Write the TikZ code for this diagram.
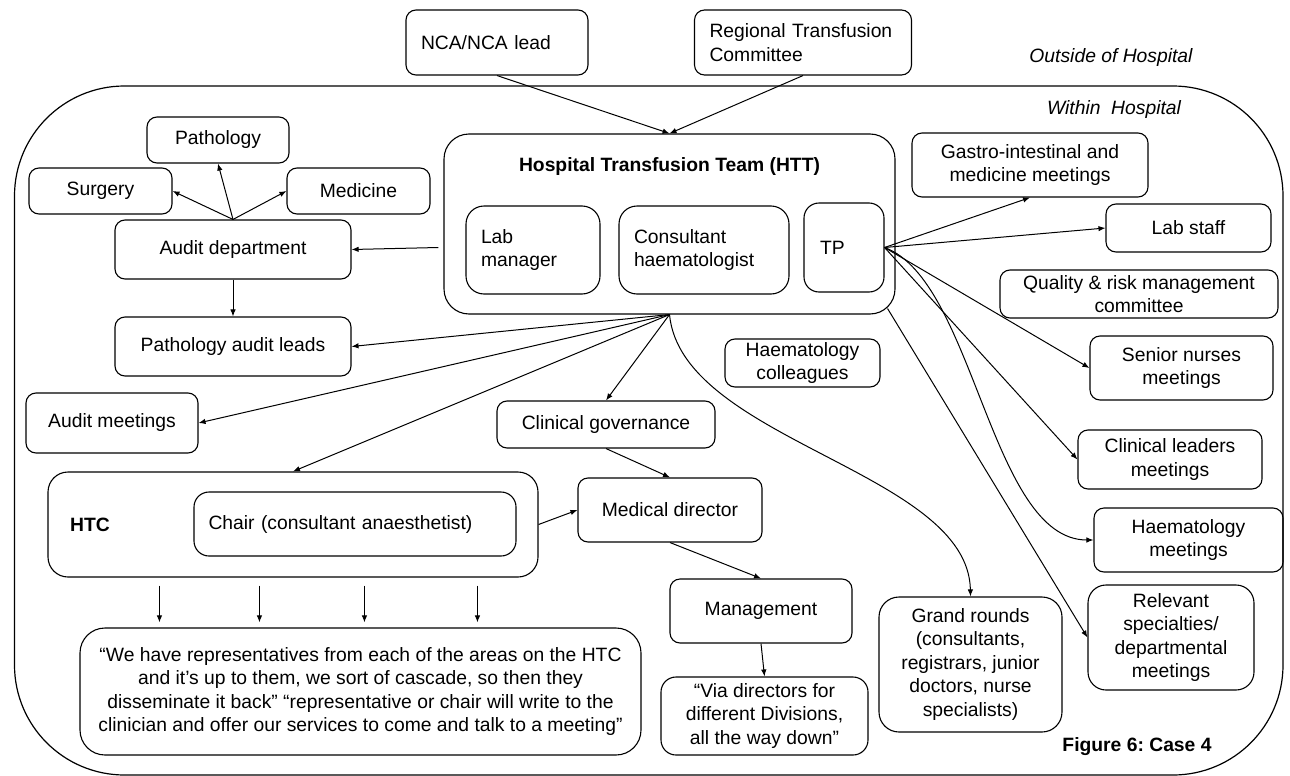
\documentclass[tikz,border=0pt]{standalone}
\usepackage{fontspec}
\setmainfont{Liberation Sans}
\usetikzlibrary{arrows.meta,calc}
\frenchspacing

\begin{document}
\begin{tikzpicture}[
    x=1pt, y=-1pt,
    every node/.style={align=center, font=\fontsize{19.3}{23.5}\selectfont},
    % Stile per i riquadri con testo centrato
    box/.style={draw, line width=1.1pt, rounded corners=10pt, inner sep=2pt},
    % Stile per i riquadri con testo a sinistra
    lbox/.style={box, align=left, inner xsep=15pt},
    % Stile per le frecce
    arr/.style={-{Latex[length=7pt,width=5.5pt]}, line width=1pt},
    % Stile per le etichette libere
    lbl/.style={font=\fontsize{19.3}{23.5}\selectfont\itshape},
    head/.style={font=\fontsize{19.3}{23.5}\selectfont\bfseries}
]
\useasboundingbox (0,0) rectangle (1290,776);

% --- ESTERNO (Outside of Hospital) ---
\node[lbox, text width=152pt, minimum height=65pt] (nca) at (497,42.5) {NCA/NCA lead};
\node[lbox, text width=187pt, minimum height=65pt] (rtc) at (803,42.5) {Regional Transfusion\\Committee};
\node[lbl] (outside) at (1111,58) {Outside of Hospital};

% --- OSPEDALE (Within Hospital) ---
\draw[line width=1.2pt, rounded corners=110pt] (14.5,86) rectangle (1283,775);
\node[lbl] (within) at (1114,110) {Within\ \ Hospital};

% --- HTT ---
\node[box, rounded corners=25pt, minimum width=451pt, minimum height=180pt] (htt) at (669.5,224) {};
\node[head] (htttitle) at (669.5,167) {Hospital Transfusion Team (HTT)};
\node[lbox, rounded corners=18pt, text width=104pt, minimum height=88pt] (labman) at (533,250) {Lab\\manager};
\node[lbox, rounded corners=18pt, text width=140pt, minimum height=88pt] (consult) at (704,250) {Consultant\\haematologist};
\node[lbox, rounded corners=15pt, inner xsep=16pt, text width=48pt, minimum height=89pt] (tp) at (844,247.5) {TP};

% --- AUDIT (sinistra) ---
\node[box, minimum width=142pt, minimum height=46pt] (path) at (218,140) {Pathology};
\node[box, minimum width=143pt, minimum height=46pt] (surg) at (100.5,191) {Surgery};
\node[box, minimum width=143pt, minimum height=46pt] (med) at (358.5,191) {Medicine};
\node[box, minimum width=236pt, minimum height=59pt] (audit) at (233,249.5) {Audit department};
\node[box, minimum width=236pt, minimum height=59pt] (pal) at (233,346.5) {Pathology audit leads};
\node[box, minimum width=172pt, minimum height=60pt] (am) at (112,423) {Audit meetings};

% --- HTC e governance ---
\node[box, rounded corners=20pt, minimum width=490pt, minimum height=105pt] (htc) at (293,524.5) {};
\node[head] (htclabel) at (90,525) {HTC};
\node[lbox, rounded corners=15pt, inner xsep=14.5pt, text width=293pt, minimum height=64pt] (chair) at (355,524) {Chair (consultant anaesthetist)};
\node[box, rounded corners=25pt, minimum width=561pt, minimum height=127pt] (quote) at (360.5,691.5)
    {“We have representatives from each of the areas on the HTC\\
     and it’s up to them, we sort of cascade, so then they\\
     disseminate it back” “representative or chair will write to the\\
     clinician and offer our services to come and talk to a meeting”};
\node[box, minimum width=218pt, minimum height=47pt] (cg) at (606,424.5) {Clinical governance};
\node[box, minimum width=155pt, minimum height=48pt] (hcol) at (802.5,363) {Haematology\\colleagues};
\node[box, minimum width=184pt, minimum height=64pt] (md) at (670,510) {Medical director};
\node[box, minimum width=182pt, minimum height=64pt] (mgmt) at (761,611) {Management};
\node[box, rounded corners=15pt, minimum width=207pt, minimum height=78pt] (via) at (764.5,716)
    {“Via directors for\\different Divisions,\\all the way down”};
\node[box, rounded corners=20pt, minimum width=183pt, minimum height=135pt] (gr) at (970.5,664.5)
    {Grand rounds\\(consultants,\\registrars, junior\\doctors, nurse\\specialists)};

% --- RIUNIONI (destra) ---
\node[box, minimum width=236pt, minimum height=64pt] (gastro) at (1030,165) {Gastro-intestinal and\\medicine meetings};
\node[box, minimum width=165pt, minimum height=48pt] (lab) at (1188.5,228) {Lab staff};
\node[box, minimum width=278pt, minimum height=48pt] (qual) at (1139,294) {Quality \& risk management\\committee};
\node[box, minimum width=183pt, minimum height=64pt] (sn) at (1181.5,368) {Senior nurses\\meetings};
\node[box, minimum width=184pt, minimum height=59pt] (cl) at (1170,459.5) {Clinical leaders\\meetings};
\node[box, minimum width=189pt, minimum height=64pt] (hm) at (1188.5,540) {Haematology\\meetings};
\node[box, rounded corners=18pt, minimum width=166pt, minimum height=105pt] (rel) at (1171,637.5)
    {Relevant\\specialties/\\departmental\\meetings};
\node[head] (fig) at (1137,747) {Figure 6: Case 4};

% --- FRECCE ---
\draw[arr] (nca.south) -- (htt.north);
\draw[arr] (rtc.south) -- (htt.north);
\draw[arr] (audit.north) -- (surg.east);
\draw[arr] (audit.north) -- (path.south);
\draw[arr] (audit.north) -- (med.west);
\draw[arr] ([xshift=-5pt]htt.west |- tp.east) -- (audit.east);
\draw[arr] (audit.south) -- (pal.north);
\draw[arr] (htt.south) -- (pal.east);
\draw[arr] (htt.south) -- (am.east);
\draw[arr] (htt.south) -- (htc.north);
\draw[arr] (htt.south) -- (cg.north);
\draw[arr] (htt.south) .. controls +(12,126) and +(-2,-125) .. (gr.north);
\draw[arr] (cg.south) -- (md.north);
\draw[arr] (htc.east) -- (md.west);
\draw[arr] (md.south) -- (mgmt.north);
\draw[arr] (mgmt.south) -- (via.north);
\foreach \dx in {112,212,317,430}
    \draw[arr] ($(htc.south west)+(\dx,8)$) -- ($(htc.south west |- quote.north)+(\dx,-5)$);
% Dal TP
\draw[arr] (tp.east) -- (gastro.south);
\draw[arr] (tp.east) -- (lab.west);
\draw[arr] (tp.east) -- (sn.west);
\draw[arr] (tp.east) -- (cl.west);
\draw[arr] (tp.east) .. controls +(90,33) and +(-103,0) .. (hm.west);
\draw[arr] ([xshift=-8pt,yshift=6pt]htt.south east) -- (rel.west);

\end{tikzpicture}
\end{document}
